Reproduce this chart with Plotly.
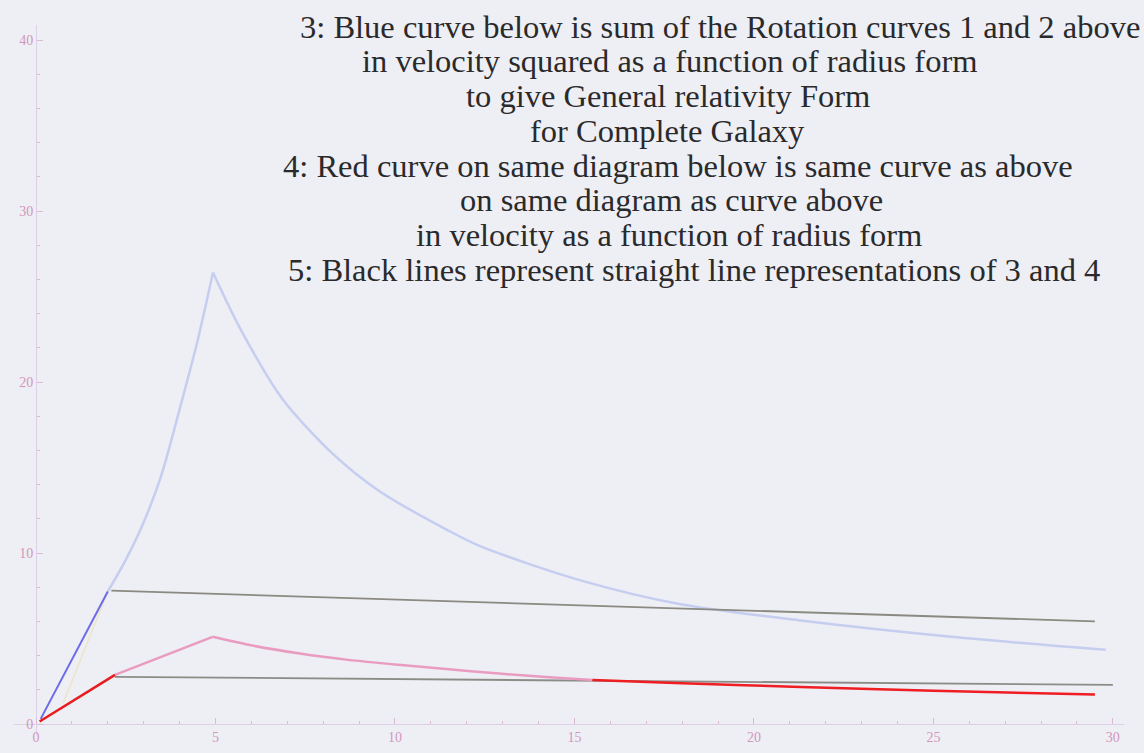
import plotly.graph_objects as go

# ---- data ----
blue_steep_x = [0.13, 2.0]
blue_steep_y = [0.3, 7.75]

faint_x = [0.76, 2.0]
faint_y = [1.23, 7.75]

lb_rise_x = [2.0, 2.5, 3.0, 3.5, 4.0, 4.5, 4.93]
lb_rise_y = [7.75, 9.6, 11.8, 14.6, 18.4, 22.4, 26.4]

lb_decay_x = [4.93, 5.67, 6.87, 8.27, 9.58, 11.5, 12.37, 15.17, 17.96, 21.3, 25.5, 29.8]
lb_decay_y = [26.4, 23.2, 19.0, 15.8, 13.6, 11.3, 10.4, 8.4, 7.0, 6.05, 5.1, 4.34]

red_start_x = [0.1, 2.2]
red_start_y = [0.15, 2.87]

pink_rise_x = [2.2, 4.92]
pink_rise_y = [2.87, 5.1]

pink_decay_x = [4.92, 6.0, 7.35, 8.7, 10.1, 11.5, 12.9, 14.2, 15.5]
pink_decay_y = [5.1, 4.6, 4.12, 3.75, 3.46, 3.2, 2.95, 2.75, 2.58]

red_tail_x = [15.5, 18.0, 21.3, 25.0, 29.5]
red_tail_y = [2.58, 2.38, 2.17, 1.95, 1.72]

grey_upper_x = [2.1, 29.5]
grey_upper_y = [7.8, 6.0]

grey_lower_x = [2.2, 30.0]
grey_lower_y = [2.76, 2.29]

x_ticks = [0, 5, 10, 15, 20, 25, 30]
y_ticks = [0, 10, 20, 30, 40]

text_lines = [
    "3: Blue curve below is sum of the Rotation curves 1 and 2 above",
    "in velocity squared as a function of radius form",
    "to give General relativity Form",
    "for Complete Galaxy",
    "4: Red curve on same diagram below is same curve as above",
    "on same diagram as curve above",
    "in velocity as a function of radius form",
    "5: Black lines represent straight line representations of 3 and 4",
]
# screen-pixel centres of each text line
text_cx = [720, 670, 668, 667, 678, 671, 669, 694]
text_cy = [27, 61, 96, 131, 166, 200, 235, 270]

# ---- layout geometry ----
W, H = 1144, 753
BG = "#eeeef5"
OFF = 0  # body margin removed below
ML, MT = 14, 25
PW, PH = 1110, 710
MR, MB = W - ML - PW, H - MT - PH
XR = [-0.613, 30.31]
YR = [-0.643, 40.88]

def px_to_paper_x(px):
    return (px - OFF - ML) / PW

def px_to_paper_y(py):
    return (MT + PH - (py - OFF)) / PH

fig = go.Figure()

def add_line(x, y, color, width, shape="linear"):
    fig.add_trace(go.Scatter(x=x, y=y, mode="lines",
                             line=dict(color=color, width=width, shape=shape, smoothing=0.8),
                             hoverinfo="skip", showlegend=False))

add_line(faint_x, faint_y, "#ece5c8", 1.5)
add_line(lb_rise_x, lb_rise_y, "#c6cef0", 2.5, "spline")
add_line(lb_decay_x, lb_decay_y, "#c6cef0", 2.5, "spline")
add_line(grey_upper_x, grey_upper_y, "#8a8a80", 1.8)
add_line(grey_lower_x, grey_lower_y, "#8c8c86", 1.8)
add_line(pink_rise_x, pink_rise_y, "#ea9cc0", 2.5)
add_line(pink_decay_x, pink_decay_y, "#ea9cc0", 2.5, "spline")
add_line(red_tail_x, red_tail_y, "#ee1e22", 2.5, "spline")
add_line(blue_steep_x, blue_steep_y, "#6c6ce8", 2)
add_line(red_start_x, red_start_y, "#e81c1c", 2.5)

# y=0 and x=0 positions in paper coordinates
x0_paper = (0 - XR[0]) / (XR[1] - XR[0])
y0_paper = (0 - YR[0]) / (YR[1] - YR[0])

axis_col = "#dccfe6"
tick_col = "#dcbcd2"
lab_font = dict(family="Liberation Serif", size=14, color="#d297ba")

fig.update_layout(
    width=W, height=H,
    margin=dict(l=ML, r=MR, t=MT, b=MB, pad=0, autoexpand=False),
    paper_bgcolor=BG,
    plot_bgcolor=BG,
    hovermode=False,
    xaxis=dict(range=XR, showgrid=False, zeroline=False, automargin=False,
               anchor="free", position=y0_paper,
               showline=True, linecolor=axis_col, linewidth=1.2,
               tickmode="array", tickvals=x_ticks, ticktext=[str(v) for v in x_ticks],
               ticks="inside", ticklen=6, tickcolor=tick_col, tickwidth=1,
               tickfont=lab_font,
               minor=dict(dtick=1, tick0=0, ticks="inside", ticklen=3, tickcolor=tick_col, showgrid=False)),
    yaxis=dict(range=YR, showgrid=False, zeroline=False, automargin=False,
               anchor="free", position=x0_paper,
               showline=True, linecolor=axis_col, linewidth=1.2,
               tickmode="array", tickvals=y_ticks, ticktext=[str(v) for v in y_ticks],
               ticks="inside", ticklen=6, tickcolor=tick_col, tickwidth=1,
               tickfont=lab_font,
               minor=dict(dtick=2, tick0=0, ticks="inside", ticklen=3, tickcolor=tick_col, showgrid=False)),
)

for t, cx, cy in zip(text_lines, text_cx, text_cy):
    fig.add_annotation(text=t, xref="paper", yref="paper",
                       x=px_to_paper_x(cx), y=px_to_paper_y(cy),
                       xanchor="center", yanchor="middle", showarrow=False,
                       font=dict(family="Liberation Serif", size=32.5, color="#2a2a2a"))

fig.write_html("out.html",
               config={"displayModeBar": False, "staticPlot": True},
               post_script="document.body.style.margin='0';document.body.style.background='%s';" % BG)
